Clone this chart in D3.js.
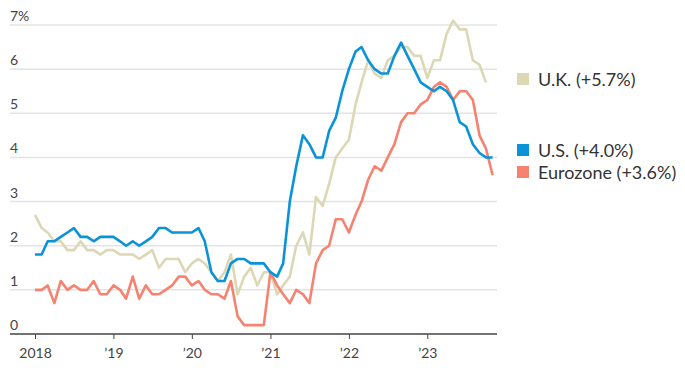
<!DOCTYPE html>
<html>
<head>
<meta charset="utf-8">
<script src="https://cdn.jsdelivr.net/npm/d3@7"></script>
<style>
  html, body { margin: 0; padding: 0; background: #fff; }
  svg { display: block; }
  text { font-family: Lato, "Open Sans", sans-serif; }
</style>
</head>
<body>
<svg id="chart" width="685" height="368"></svg>
<script>
// ---- Data (core inflation, year-over-year %, monthly from Jan 2018) ----
const startMonth = "2018-01";
const usValues = [
  1.8,1.8,2.1,2.1,2.2,2.3,2.4,2.2,2.2,2.1,2.2,2.2,
  2.2,2.1,2.0,2.1,2.0,2.1,2.2,2.4,2.4,2.3,2.3,2.3,
  2.3,2.4,2.1,1.4,1.2,1.2,1.6,1.7,1.7,1.6,1.6,1.6,
  1.4,1.3,1.6,3.0,3.8,4.5,4.3,4.0,4.0,4.6,4.9,5.5,
  6.0,6.4,6.5,6.2,6.0,5.9,5.9,6.3,6.6,6.3,6.0,5.7,
  5.6,5.5,5.6,5.5,5.3,4.8,4.7,4.3,4.1,4.0,4.0
];
const ukValues = [
  2.7,2.4,2.3,2.1,2.1,1.9,1.9,2.1,1.9,1.9,1.8,1.9,
  1.9,1.8,1.8,1.8,1.7,1.8,1.9,1.5,1.7,1.7,1.7,1.4,
  1.6,1.7,1.6,1.4,1.2,1.4,1.8,0.9,1.3,1.5,1.1,1.4,
  1.4,0.9,1.1,1.3,2.0,2.3,1.8,3.1,2.9,3.4,4.0,4.2,
  4.4,5.2,5.7,6.2,5.9,5.8,6.2,6.3,6.5,6.5,6.3,6.3,
  5.8,6.2,6.2,6.8,7.1,6.9,6.9,6.2,6.1,5.7
];
const euroValues = [
  1.0,1.0,1.1,0.7,1.2,1.0,1.1,1.0,1.0,1.2,0.9,0.9,
  1.1,1.0,0.8,1.3,0.8,1.1,0.9,0.9,1.0,1.1,1.3,1.3,
  1.1,1.2,1.0,0.9,0.9,0.8,1.2,0.4,0.2,0.2,0.2,0.2,
  1.4,1.1,0.9,0.7,1.0,0.9,0.7,1.6,1.9,2.0,2.6,2.6,
  2.3,2.7,3.0,3.5,3.8,3.7,4.0,4.3,4.8,5.0,5.0,5.2,
  5.3,5.6,5.7,5.6,5.3,5.5,5.5,5.3,4.5,4.2,3.6
];
const seriesNames = ["U.K.", "Eurozone", "U.S."];
const legendLabels = ["U.K. (+5.7%)", "U.S. (+4.0%)", "Eurozone (+3.6%)"];
const yTicks = [0,1,2,3,4,5,6,7];
const yTickLabels = ["0","1","2","3","4","5","6","7%"];
const xTickYears = [2018,2019,2020,2021,2022,2023];
const xTickLabels = ["2018","\u201919","\u201920","\u201921","\u201922","\u201923"];

// ---- Setup ----
const svg = d3.select("#chart");
const parse = d3.timeParse("%Y-%m");
const t0 = parse(startMonth);
const toSeries = vals => vals.map((v, i) => ({ date: d3.timeMonth.offset(t0, i), value: v }));

const colors = { "U.K.": "#dcd7b5", "Eurozone": "#f5836f", "U.S.": "#0a93d8" };
const seriesData = {
  "U.K.": toSeries(ukValues),
  "Eurozone": toSeries(euroValues),
  "U.S.": toSeries(usValues)
};

const x = d3.scaleTime()
  .domain([new Date(2018,0,1), new Date(2023,0,1)])
  .range([35, 427.3]);
const y = d3.scaleLinear().domain([0,7]).range([334, 25]);

const gridLeft = 10, gridRight = 497;

// gridlines
svg.append("g").selectAll("line")
  .data(yTicks.filter(d => d > 0))
  .join("line")
  .attr("x1", gridLeft).attr("x2", gridRight)
  .attr("y1", d => y(d)).attr("y2", d => y(d))
  .attr("stroke", "#e4e4e4").attr("stroke-width", 1.5);

// y labels
svg.append("g").selectAll("text")
  .data(yTicks)
  .join("text")
  .attr("x", gridLeft)
  .attr("y", d => y(d) - 4)
  .attr("font-size", 14)
  .attr("fill", "#444")
  .text((d, i) => yTickLabels[i]);

// x axis
const xAxis = d3.axisBottom(x)
  .tickValues(xTickYears.map(yr => new Date(yr,0,1)))
  .tickFormat((d, i) => xTickLabels[i])
  .tickSize(5)
  .tickPadding(9);
const gx = svg.append("g").attr("transform", `translate(0,${y(0)})`).call(xAxis);
gx.select(".domain").remove();
gx.selectAll(".tick line").attr("stroke", "#444");
gx.selectAll(".tick text").attr("font-size", 14).attr("fill", "#444")
  .attr("font-family", "Lato, 'Open Sans', sans-serif");
svg.append("line")
  .attr("x1", gridLeft).attr("x2", gridRight)
  .attr("y1", y(0)).attr("y2", y(0))
  .attr("stroke", "#444").attr("stroke-width", 1.5);

// lines
const line = d3.line().x(d => x(d.date)).y(d => y(d.value));
svg.append("g").selectAll("path")
  .data(seriesNames)
  .join("path")
  .attr("d", n => line(seriesData[n]))
  .attr("fill", "none")
  .attr("stroke", n => colors[n])
  .attr("stroke-width", 2.6)
  .attr("stroke-linejoin", "round");

// legend
const legendItems = [
  { label: legendLabels[0], color: colors["U.K."], y: 86 },
  { label: legendLabels[1], color: colors["U.S."], y: 157 },
  { label: legendLabels[2], color: colors["Eurozone"], y: 179 }
];
const lg = svg.append("g").selectAll("g").data(legendItems).join("g");
lg.append("rect")
  .attr("x", 517).attr("y", d => d.y - 13)
  .attr("width", 12).attr("height", 12)
  .attr("fill", d => d.color);
lg.append("text")
  .attr("x", 538).attr("y", d => d.y)
  .attr("font-size", 18)
  .attr("fill", "#333")
  .text(d => d.label);
</script>
</body>
</html>
